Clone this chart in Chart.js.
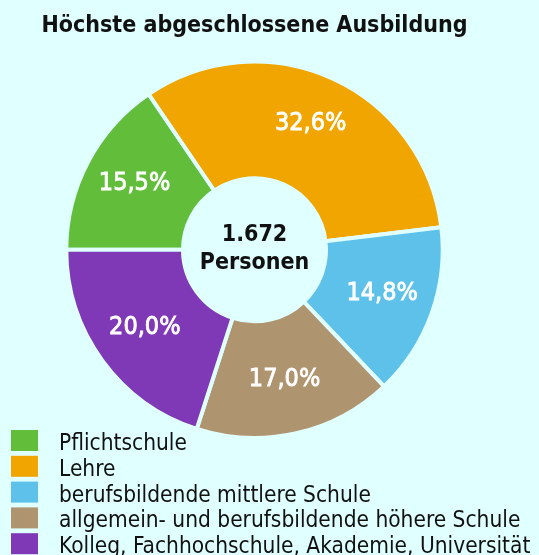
<!DOCTYPE html>
<html>
<head>
<meta charset="utf-8">
<script src="https://cdn.jsdelivr.net/npm/chart.js@4.4.1/dist/chart.umd.min.js"></script>
<style>
  html, body { margin: 0; padding: 0; background: #e0ffff; }
</style>
</head>
<body>
<canvas id="chart" width="539" height="555"></canvas>
<script>
const categories = [
  'Pflichtschule',
  'Lehre',
  'berufsbildende mittlere Schule',
  'allgemein- und berufsbildende höhere Schule',
  'Kolleg, Fachhochschule, Akademie, Universität'
];
const persons = [259, 545, 248, 285, 335];
const colors = ['#62bd3b', '#f0a500', '#5ec1e9', '#ae946f', '#7f39b6'];
const titleText = 'Höchste abgeschlossene Ausbildung';
const centerUnit = 'Personen';

const FONT = '"DejaVu Sans Condensed", "DejaVu Sans", sans-serif';
const BG = '#e0ffff';
const CAP = 0.73; // cap height of DejaVu, in em

const total = persons.reduce((a, b) => a + b, 0);
const fmtTotal = n => String(n).replace(/\B(?=(\d{3})+(?!\d))/g, '.');
const fmtPct = v => (v / total * 100).toFixed(1).replace('.', ',') + '%';

// percent labels, center text and the stacked legend
const extras = {
  id: 'extras',
  afterDatasetsDraw(chart) {
    const ctx = chart.ctx;
    const meta = chart.getDatasetMeta(0);
    ctx.save();
    ctx.textAlign = 'center';
    ctx.textBaseline = 'alphabetic';

    const labelSize = 25;
    ctx.fillStyle = '#fff';
    ctx.strokeStyle = '#fff';
    ctx.lineWidth = 0.8;
    ctx.font = labelSize + 'px ' + FONT;
    meta.data.forEach((arc, i) => {
      const p = arc.getProps(['x', 'y', 'startAngle', 'endAngle', 'innerRadius', 'outerRadius']);
      const a = (p.startAngle + p.endAngle) / 2;
      const r = p.innerRadius + (p.outerRadius - p.innerRadius) * 0.55;
      const x = p.x + Math.cos(a) * r;
      const y = p.y - 5 + Math.sin(a) * r + labelSize * CAP / 2;
      ctx.fillText(fmtPct(persons[i]), x, y);
      ctx.strokeText(fmtPct(persons[i]), x, y);
    });

    const c = meta.data[0];
    ctx.fillStyle = '#111';
    ctx.font = 'bold 23px ' + FONT;
    ctx.fillText(fmtTotal(total), c.x, c.y - 9);
    ctx.fillText(centerUnit, c.x, c.y + 19);

    ctx.textAlign = 'left';
    ctx.font = '22.5px ' + FONT;
    categories.forEach((label, i) => {
      const top = 430 + i * 25.8;
      ctx.fillStyle = colors[i];
      ctx.fillRect(11, top, 27, 21);
      ctx.fillStyle = '#111';
      ctx.fillText(label, 59, top + 20);
    });
    ctx.restore();
  }
};

new Chart(document.getElementById('chart'), {
  type: 'doughnut',
  data: {
    labels: categories,
    datasets: [{
      data: persons,
      backgroundColor: colors,
      borderColor: BG,
      borderWidth: 4
    }]
  },
  options: {
    responsive: false,
    animation: false,
    events: [],
    rotation: 270,
    cutout: '38%',
    layout: { padding: { top: 0, right: 30, bottom: 115, left: 0 } },
    plugins: {
      legend: { display: false },
      tooltip: { enabled: false },
      title: {
        display: true,
        text: titleText,
        color: '#111',
        font: { family: FONT, size: 23, weight: 'bold' },
        padding: { top: 12, bottom: 20 }
      }
    }
  },
  plugins: [extras]
});
</script>
</body>
</html>
